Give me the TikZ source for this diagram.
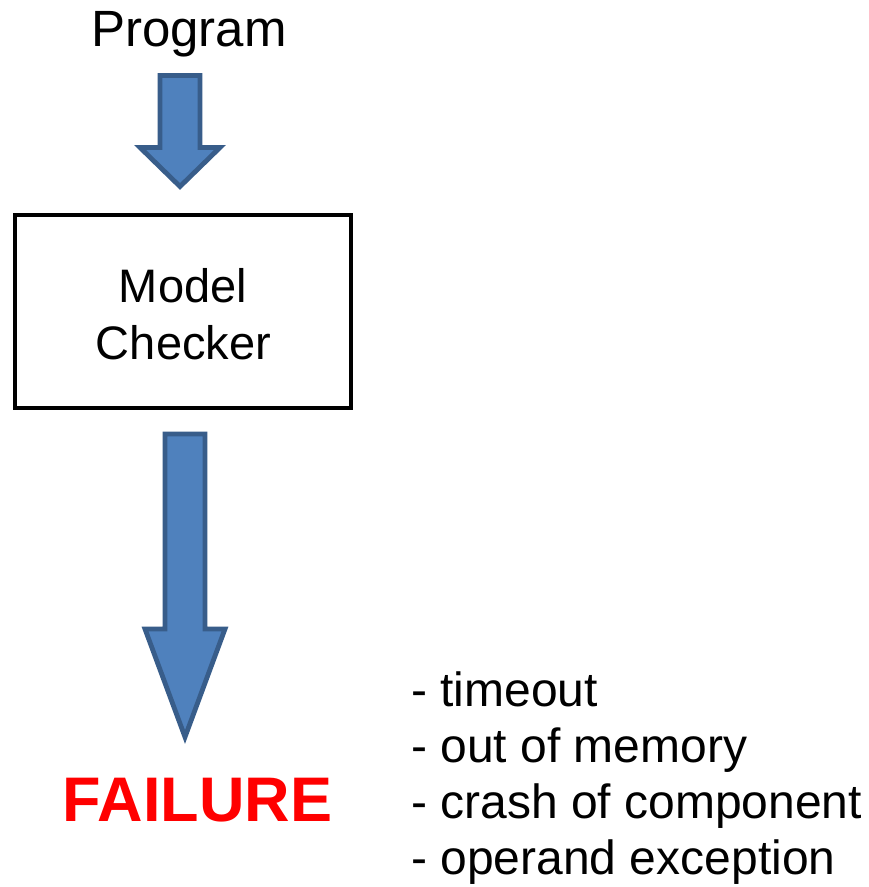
\documentclass[tikz,border=0pt]{standalone}
\usepackage{fontspec}
\setmainfont{Liberation Sans}
\definecolor{arrowfill}{HTML}{4F81BD}
\definecolor{arrowline}{HTML}{385D8A}
\definecolor{failred}{HTML}{FF0000}
\tikzset{
  blockarrow/.style={fill=arrowfill, draw=arrowline, line width=4.8pt, line join=miter, miter limit=20},
  checkerbox/.style={draw=black, line width=4.6pt},
  label/.style={inner sep=0pt, anchor=base},
  listitem/.style={inner sep=0pt, anchor=base west, font=\fontsize{48}{56}\selectfont},
}
% Block arrow: centre x, top, flange y, tip y, half shaft width, half head width
\newcommand{\fatarrow}[6]{%
  \draw[blockarrow] (#1-#5,#2) -- (#1+#5,#2) -- (#1+#5,#3) -- (#1+#6,#3)
    -- (#1,#4) -- (#1-#6,#3) -- (#1-#5,#3) -- cycle;}
\begin{document}
\begin{tikzpicture}[x=1pt,y=-1pt]
  \useasboundingbox[fill=white] (0,0) rectangle (869,887);

  % input label
  \node[label, font=\fontsize{51}{60}\selectfont] (prog) at (189,46) {Program};

  % model checker box
  \draw[checkerbox] (15,215) rectangle (351,408);
  \coordinate (box) at (183,311);
  \node[label, font=\fontsize{47}{57}\selectfont] (model) at (183,302) {Model};
  \node[label, font=\fontsize{47}{57}\selectfont] (checker) at (183.5,359) {Checker};

  % arrow into the checker
  \coordinate (a1top) at (180,75.5);
  \coordinate (a1tip) at (180,186.5);
  \fatarrow{180}{75.5}{147.5}{186.5}{20}{40}

  % arrow out of the checker
  \coordinate (a2top) at (185,434);
  \coordinate (a2tip) at (185,737);
  \fatarrow{185}{434}{629}{737}{20}{40}

  % outcome
  \node[label, font=\bfseries\fontsize{63}{70}\selectfont, text=failred] (fail) at (197.5,821) {FAILURE};

  % causes
  \node[listitem] (c1) at (411,706) {- timeout};
  \node[listitem] (c2) at (411,762) {- out of memory};
  \node[listitem] (c3) at (411,818) {- crash of component};
  \node[listitem] (c4) at (411,874) {- operand exception};
\end{tikzpicture}
\end{document}
